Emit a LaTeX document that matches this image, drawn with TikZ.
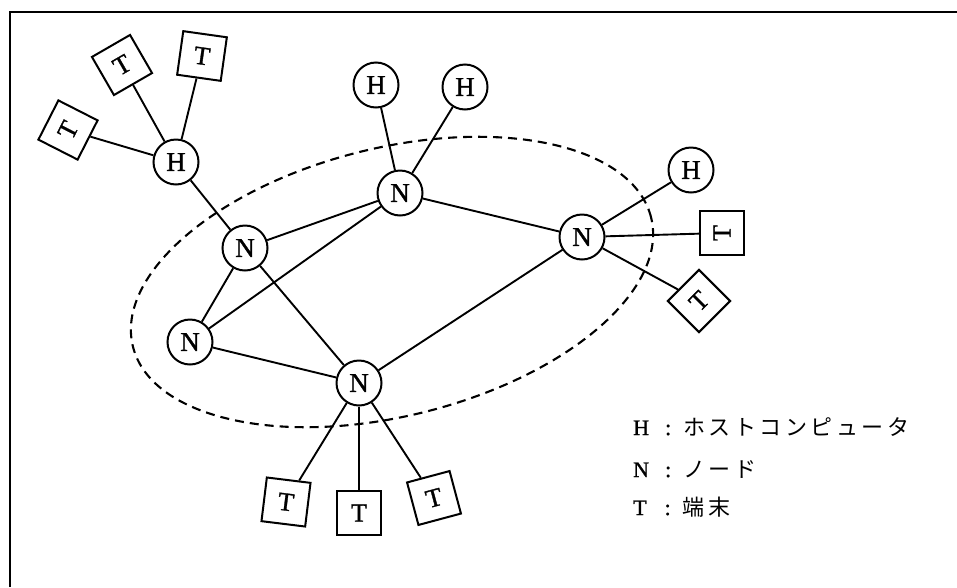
\documentclass[tikz,border=0pt]{standalone}
\usepackage{fontspec}
\setmainfont{Liberation Serif}
\newfontfamily\labelfont[FakeBold=1.2]{Liberation Serif}
\newfontfamily\jpfont{Noto Sans CJK JP}
\usetikzlibrary{shapes.geometric}
\tikzstyle{host} = [circle, minimum size=45pt, inner sep=0pt, draw=black, line width=2pt, font=\labelfont\fontsize{27}{30}\selectfont]
\tikzstyle{relay} = [host]
\tikzstyle{term} = [rectangle, minimum size=44pt, inner sep=0pt, draw=black, line width=2pt, font=\labelfont\fontsize{26}{30}\selectfont]
\tikzstyle{link} = [line width=1.9pt]
\tikzstyle{net} = [line width=2.1pt, dash pattern=on 9pt off 6pt]
\tikzstyle{legend} = [anchor=base west, inner sep=0pt, font=\labelfont\fontsize{22}{26}\selectfont]
\newcommand{\ks}{\hspace{3.5pt}}

\begin{document}
\begin{tikzpicture}[x=1pt,y=-1pt]
\useasboundingbox (0,0) rectangle (957,587);
\draw [line width=2pt] (10,587) -- (10,12) -- (957,12);

\draw [net, rotate around={14:(392,282)}] (392,282) ellipse [x radius=267pt, y radius=134pt];

\node (h1) [host] at (176,162) {H};
\node (t1) [term, rotate=63] at (68,130) {T};
\node (t2) [term, rotate=30] at (122,65) {T};
\node (t3) [term, rotate=-8] at (202,56) {T};
\node (n1) [relay] at (245,248) {N};
\node (n2) [relay] at (400,193) {N};
\node (h2) [host] at (376,85) {H};
\node (h3) [host] at (465,87) {H};
\node (n3) [relay] at (582,237) {N};
\node (h4) [host] at (691,170) {H};
\node (t4) [term, rotate=90] at (722,233) {T};
\node (t5) [term, rotate=45] at (699,301) {T};
\node (n4) [relay] at (190,342) {N};
\node (n5) [relay] at (359,383) {N};
\node (t6) [term, rotate=-7] at (286,502) {T};
\node (t7) [term] at (359,513) {T};
\node (t8) [term, rotate=15] at (434,498) {T};

\draw [link] (h1) -- (t1);
\draw [link] (h1) -- (t2);
\draw [link] (h1) -- (t3);
\draw [link] (h1) -- (n1);
\draw [link] (n1) -- (n2);
\draw [link] (n1) -- (n4);
\draw [link] (n1) -- (n5);
\draw [link] (n2) -- (h2);
\draw [link] (n2) -- (h3);
\draw [link] (n2) -- (n3);
\draw [link] (n2) -- (n4);
\draw [link] (n4) -- (n5);
\draw [link] (n5) -- (n3);
\draw [link] (n3) -- (h4);
\draw [link] (n3) -- (t4);
\draw [link] (n3) -- (t5);
\draw [link] (n5) -- (t6);
\draw [link] (n5) -- (t7);
\draw [link] (n5) -- (t8);

\node (keyh) [legend] at (633,435) {H\hspace{16pt}:\hspace{12pt}{\jpfont ホ\ks ス\ks ト\ks コ\ks ン\ks ピ\ks ュ\ks ー\ks タ}};
\node (keyn) [legend] at (633,477) {N\hspace{16pt}:\hspace{12pt}{\jpfont ノ\ks ー\ks ド}};
\node (keyt) [legend] at (633,515) {T\hspace{18pt}:\hspace{12pt}{\jpfont 端\ks 末}};
\end{tikzpicture}
\end{document}
